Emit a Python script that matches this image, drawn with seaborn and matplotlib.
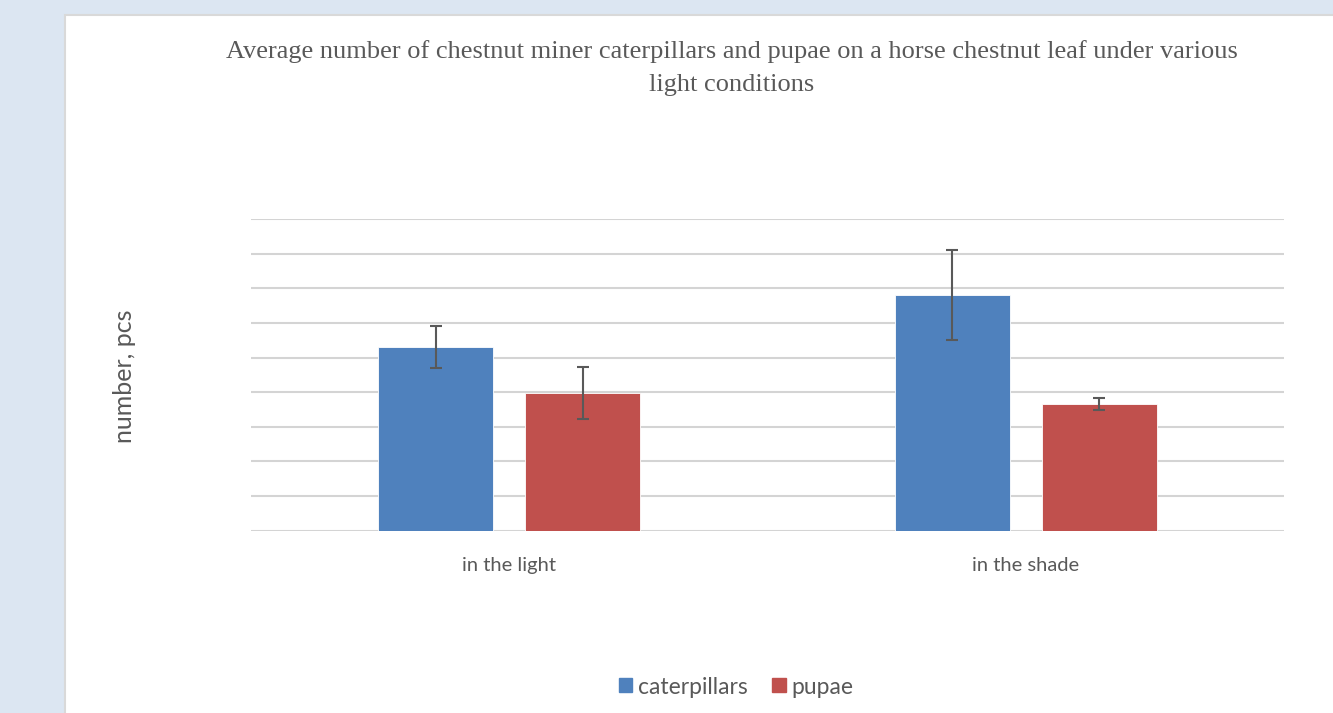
import matplotlib
matplotlib.use("Agg")
import matplotlib.pyplot as plt
import matplotlib.patches as mpatches
import pandas as pd
import seaborn as sns

# --- Data ---
conditions = ["in the light", "in the shade"]
caterpillars = [5.31, 6.81]
pupae = [3.98, 3.65]
caterpillars_err = [0.6, 1.3]
pupae_err = [0.76, 0.17]
series_names = ["caterpillars", "pupae"]

title_text = ("Average number of chestnut miner caterpillars and pupae on a horse chestnut leaf under various\n"
              "light conditions")
ylabel_text = "number, pcs"

df = pd.DataFrame({
    "condition": conditions * 2,
    "value": caterpillars + pupae,
    "series": [series_names[0]] * 2 + [series_names[1]] * 2,
})
errors = {series_names[0]: caterpillars_err, series_names[1]: pupae_err}

sns.set_style("white")
plt.rcParams["font.family"] = ["Lato", "DejaVu Sans"]

text_grey = "#595959"
palette = {"caterpillars": "#4f81bd", "pupae": "#c0504d"}

fig = plt.figure(figsize=(13.33, 7.13), dpi=100)
fig.patch.set_facecolor("#dce6f2")

# white chart panel
panel = mpatches.Rectangle((65 / 1333, -0.01), 1.0, 1 - 15 / 713 + 0.01,
                           transform=fig.transFigure, facecolor="white",
                           edgecolor="#d9d9d9", linewidth=1.5, zorder=-10)
fig.patches.append(panel)

ax = fig.add_axes([251 / 1333, 1 - 530.7 / 713, (1284 - 251) / 1333, (530.7 - 219) / 713])
ax.set_facecolor("none")
ax.set_zorder(1)

sns.barplot(data=df, x="condition", y="value", hue="series", palette=palette,
            saturation=1, errorbar=None, width=0.57, gap=0.22, ax=ax, zorder=3,
            edgecolor="white", linewidth=0.6)

# error bars at the bar centres
for cont, name in zip(ax.containers, series_names):
    xs = [p.get_x() + p.get_width() / 2 for p in cont.patches]
    ys = [p.get_height() for p in cont.patches]
    ax.errorbar(xs, ys, yerr=errors[name], fmt="none", ecolor="#595959",
                elinewidth=1.5, capsize=4.3, capthick=1.5, zorder=4)

ax.set_ylim(0, 9)
ax.set_xlim(-0.5, 1.5)
ax.set_yticks(range(0, 10))
ax.set_yticklabels([])
ax.yaxis.grid(True, color="#d4d4d4", linewidth=1.5, zorder=0)
ax.set_axisbelow(True)
sns.despine(ax=ax, left=True, top=True, right=True, bottom=True)
ax.tick_params(axis="both", length=0)
ax.tick_params(axis="x", labelsize=14.5, labelcolor=text_grey, pad=19)
ax.set_xlabel("")
ax.set_ylabel("")

fig.text(125 / 1333, 1 - 376 / 713, ylabel_text, rotation=90, ha="center", va="center",
         fontsize=18, color=text_grey)

fig.text(732 / 1333, 1 - 68 / 713, title_text, ha="center", va="center",
         fontsize=19, color=text_grey, family=["Liberation Serif", "DejaVu Serif"],
         linespacing=1.6)

handles = [mpatches.Patch(color=palette[n], label=n) for n in series_names]
ax.get_legend().remove()
fig.legend(handles=handles, loc="center", bbox_to_anchor=(736 / 1333, 1 - 687 / 713),
           ncol=2, frameon=False, fontsize=16.5, labelcolor=text_grey,
           handlelength=0.57, handleheight=0.57, handletextpad=0.25, columnspacing=1.1)

fig.savefig("out.png", dpi=100, facecolor=fig.get_facecolor())
